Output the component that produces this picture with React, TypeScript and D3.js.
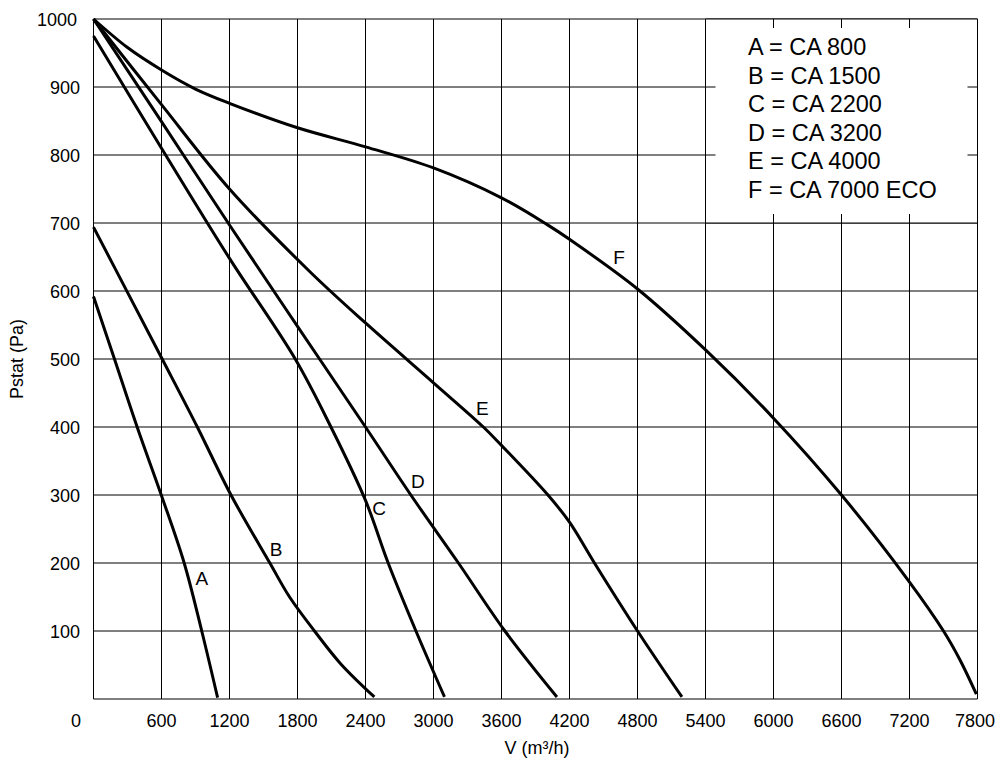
import React, { useEffect, useRef } from "react";
import * as d3 from "d3";

// axis ticks
const vTicks = [0, 600, 1200, 1800, 2400, 3000, 3600, 4200, 4800, 5400, 6000, 6600, 7200, 7800];
const pTicks = [100, 200, 300, 400, 500, 600, 700, 800, 900, 1000];

const legendLines = ["A = CA 800", "B = CA 1500", "C = CA 2200", "D = CA 3200", "E = CA 4000", "F = CA 7000 ECO"];

// fan curves, [V (m3/h), Pstat (Pa)]
const curveA: [number, number][] = [[0, 592], [185, 500], [385, 400], [598, 300], [800, 200], [955, 100], [1095, 2]];
const curveB: [number, number][] = [[0, 694], [300, 598], [606, 500], [916, 400], [1213, 300], [1556, 200], [1730, 150], [1950, 100], [2180, 52], [2478, 3]];
const curveC: [number, number][] = [[0, 975], [600, 810], [1200, 648], [1780, 500], [2095, 400], [2400, 292], [2600, 200], [2845, 100], [3097, 3]];
const curveD: [number, number][] = [[0, 1000], [600, 849], [1200, 697], [1800, 548], [2400, 400], [2800, 300], [3220, 200], [3630, 100], [4089, 3]];
const curveE: [number, number][] = [[0, 1000], [600, 874], [1200, 750], [1912, 628], [2400, 553], [3000, 465], [3440, 400], [3600, 373], [4010, 300], [4200, 260], [4420, 200], [4800, 100], [5192, 3]];
const curveF: [number, number][] = [[0, 1000], [300, 958], [600, 925], [900, 897], [1200, 876], [1800, 840], [2400, 812], [3000, 781], [3600, 737], [4000, 698], [4200, 676], [4800, 603], [5403, 513], [6000, 413], [6600, 300], [7200, 172], [7500, 100], [7647, 57], [7790, 7]];

const curveNames = ["A", "B", "C", "D", "E", "F"];
const curves = [curveA, curveB, curveC, curveD, curveE, curveF];
// where the letters sit (data units)
const labelV = [955, 1612, 2521, 2861, 3432, 4638];
const labelP = [168, 210, 271, 310, 418, 640];

export default function App() {
  const ref = useRef<SVGSVGElement>(null);

  useEffect(() => {
    document.body.style.margin = "0";
    const svg = d3.select(ref.current);
    svg.selectAll("*").remove();

    const font = "'Liberation Sans', Arial, sans-serif";
    const x = d3.scaleLinear().domain([0, 7800]).range([93.5, 977.5]);
    const y = d3.scaleLinear().domain([0, 1000]).range([699, 19]);

    svg.append("rect").attr("width", 998).attr("height", 763).attr("fill", "white");

    // grid
    const grid = svg.append("g");
    grid.selectAll("line.h")
      .data([0, ...pTicks])
      .enter().append("line")
      .attr("x1", x(0)).attr("x2", x(7800))
      .attr("y1", d => y(d)).attr("y2", d => y(d))
      .attr("stroke", "#000").attr("stroke-width", 1);
    grid.selectAll("line.v")
      .data(vTicks)
      .enter().append("line")
      .attr("x1", d => x(d)).attr("x2", d => x(d))
      .attr("y1", y(0)).attr("y2", y(1000))
      .attr("stroke", "#000").attr("stroke-width", 1);

    // legend box covering the top right cells
    const lx0 = x(5400), lx1 = x(7800), ly0 = y(1000), ly1 = y(700);
    svg.append("rect")
      .attr("x", lx0).attr("y", ly0)
      .attr("width", lx1 - lx0).attr("height", ly1 - ly0)
      .attr("fill", "white");
    const box = svg.append("g").attr("stroke", "#000").attr("stroke-width", 1);
    [1000, 700].forEach(p => box.append("line").attr("x1", lx0).attr("x2", lx1).attr("y1", y(p)).attr("y2", y(p)));
    [5400, 7800].forEach(v => box.append("line").attr("x1", x(v)).attr("x2", x(v)).attr("y1", ly0).attr("y2", ly1));
    [6000, 6600, 7200].forEach(v => {
      box.append("line").attr("x1", x(v)).attr("x2", x(v)).attr("y1", ly0).attr("y2", ly0 + 9);
      box.append("line").attr("x1", x(v)).attr("x2", x(v)).attr("y1", ly1 - 9).attr("y2", ly1);
    });
    [900, 800].forEach(p => {
      box.append("line").attr("x1", lx0).attr("x2", lx0 + 10).attr("y1", y(p)).attr("y2", y(p));
      box.append("line").attr("x1", lx1 - 10).attr("x2", lx1).attr("y1", y(p)).attr("y2", y(p));
    });
    svg.selectAll("text.legend")
      .data(legendLines)
      .enter().append("text")
      .attr("x", 748)
      .attr("y", (d, i) => 55 + i * 28.5)
      .attr("font-family", font)
      .attr("font-size", 23.5)
      .attr("fill", "#000")
      .text(d => d);

    // curves
    const line = d3.line<[number, number]>()
      .x(d => x(d[0]))
      .y(d => y(d[1]))
      .curve(d3.curveCatmullRom.alpha(0.5));
    svg.selectAll("path.curve")
      .data(curves)
      .enter().append("path")
      .attr("d", d => line(d))
      .attr("fill", "none")
      .attr("stroke", "#000")
      .attr("stroke-width", 3)
      .attr("stroke-linejoin", "round");

    svg.selectAll("text.cl")
      .data(curveNames)
      .enter().append("text")
      .attr("x", (d, i) => x(labelV[i]))
      .attr("y", (d, i) => y(labelP[i]))
      .attr("text-anchor", "middle")
      .attr("font-family", font)
      .attr("font-size", 19)
      .text(d => d);

    // tick labels
    svg.selectAll("text.yt")
      .data(pTicks)
      .enter().append("text")
      .attr("x", d => (d === 1000 ? 77 : 80))
      .attr("y", d => y(d) + 6.5)
      .attr("text-anchor", "end")
      .attr("font-family", font)
      .attr("font-size", 18)
      .text(d => d);
    svg.selectAll("text.xt")
      .data(vTicks)
      .enter().append("text")
      .attr("x", d => (d === 0 ? 76 : d === 7800 ? 975 : x(d)))
      .attr("y", 727)
      .attr("text-anchor", "middle")
      .attr("font-family", font)
      .attr("font-size", 18)
      .text(d => d);

    // axis titles
    svg.append("text")
      .attr("x", 537).attr("y", 754)
      .attr("text-anchor", "middle")
      .attr("font-family", font)
      .attr("font-size", 18)
      .text("V (m³/h)");
    svg.append("text")
      .attr("transform", "translate(23,359) rotate(-90)")
      .attr("text-anchor", "middle")
      .attr("font-family", font)
      .attr("font-size", 18)
      .text("Pstat (Pa)");
  }, []);

  return <svg ref={ref} width={998} height={763} style={{ display: "block" }} />;
}
